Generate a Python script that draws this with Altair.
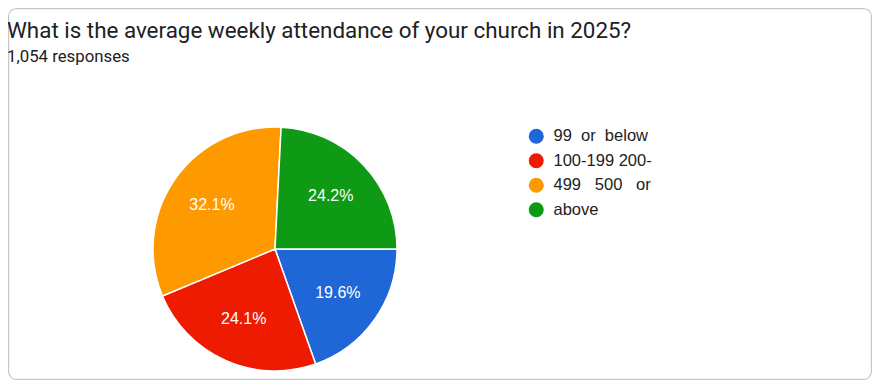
import math
import altair as alt
import pandas as pd

# data
title_text = "What is the average weekly attendance of your church in 2025?"
subtitle_text = "1,054 responses"
categories = ["99 or below", "100-199", "200-499", "500 or above"]
legend_labels = ["99\u00a0\u00a0or\u00a0\u00a0below", "100-199 200-",
                 "499\u00a0\u00a0\u00a0500\u00a0\u00a0\u00a0or", "above"]
shares = [19.6, 24.1, 32.1, 24.2]
pct_text = ["19.6%", "24.1%", "32.1%", "24.2%"]
colors = ["#1f66d6", "#ee1b00", "#ff9900", "#0e9a14"]

df = pd.DataFrame({
    "category": categories,
    "label": legend_labels,
    "share": shares,
    "pct": pct_text,
    "idx": list(range(len(categories))),
})
one = pd.DataFrame({"a": [0]})

W, H = 864, 372
CX, CY, R = 267, 241, 122

theta = alt.Theta("share:Q", stack=True,
                  scale=alt.Scale(range=[math.pi / 2, math.pi / 2 + 2 * math.pi]))
order = alt.Order("idx:Q")

card = alt.Chart(one).mark_rect(
    fillOpacity=0, stroke="#c6c6c6", strokeWidth=1.2, cornerRadius=8
).encode(
    x=alt.value(0.6), x2=alt.value(W - 0.6),
    y=alt.value(0.6), y2=alt.value(H - 0.6),
)

title = alt.Chart(one).mark_text(
    align="left", baseline="alphabetic", font="Roboto", fontSize=22.4,
    color="#202124"
).encode(x=alt.value(-1), y=alt.value(30), text=alt.value(title_text))

subtitle = alt.Chart(one).mark_text(
    align="left", baseline="alphabetic", font="Roboto", fontSize=16.8,
    color="#202124"
).encode(x=alt.value(-1), y=alt.value(53.5), text=alt.value(subtitle_text))

arcs = alt.Chart(df).mark_arc(
    radius=R, x=CX, y=CY, stroke="white", strokeWidth=1.5
).encode(
    theta=theta,
    order=order,
    color=alt.Color(
        "label:N",
        scale=alt.Scale(domain=legend_labels, range=colors),
        legend=alt.Legend(
            title=None, orient="none", legendX=520, legendY=120,
            symbolType="circle", symbolSize=225, symbolStrokeWidth=0,
            labelFont="Liberation Sans", labelFontSize=16.5, labelColor="#222222",
            labelOffset=9, rowPadding=7.5, labelLimit=300,
        ),
    ),
    tooltip=["category:N", "share:Q"],
)

labels = alt.Chart(df).mark_text(
    radius=77, x=CX, y=CY, fill="white", font="Liberation Sans", fontSize=16
).encode(
    theta=theta,
    order=order,
    text="pct:N",
)

chart = alt.layer(card, title, subtitle, arcs, labels).properties(
    width=W, height=H,
    padding=0,
    autosize=alt.AutoSizeParams(type="none"),
    background="white",
).configure_view(stroke=None)

chart.save("out.html", embed_options={"renderer": "svg", "actions": False})
